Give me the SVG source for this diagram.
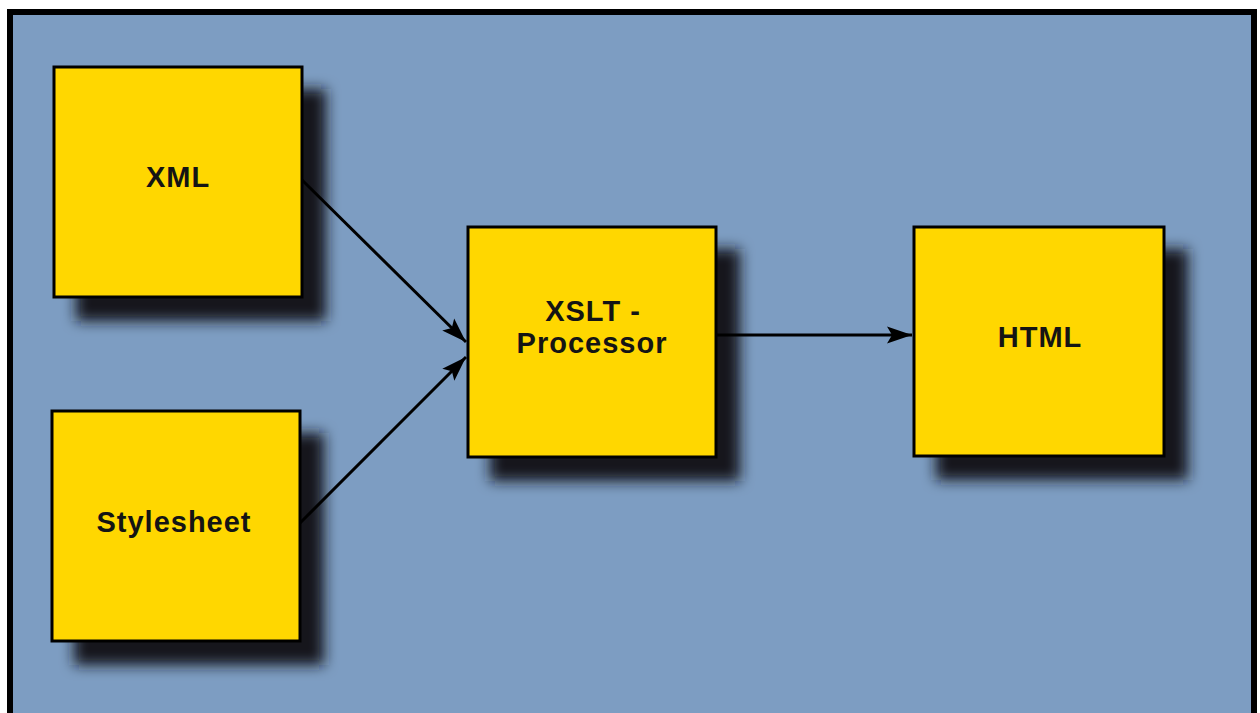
<svg xmlns="http://www.w3.org/2000/svg" width="1260" height="713" viewBox="0 0 1260 713">
  <style>
    .box { fill: #ffd700; stroke: #000; stroke-width: 3; }
    .shadow { fill: #15181d; filter: url(#blur); }
    .label { font-family: "Liberation Sans", Arial, sans-serif; font-weight: bold; font-size: 29px; letter-spacing: 1px; fill: #141414; text-anchor: middle; }
    .edge { stroke: #000; stroke-width: 3; fill: none; marker-end: url(#arrow); }
  </style>
  <defs>
    <filter id="blur" x="-20%" y="-20%" width="140%" height="140%">
      <feGaussianBlur stdDeviation="7"/>
    </filter>
    <marker id="arrow" viewBox="-26 -10 28 20" refX="0" refY="0" markerWidth="28" markerHeight="20" markerUnits="userSpaceOnUse" orient="auto" overflow="visible">
      <path d="M0,0 L-25,-8.5 L-20,0 L-25,8.5 Z" fill="#000"/>
    </marker>
  </defs>

  <!-- page -->
  <rect x="0" y="0" width="1260" height="713" fill="#fff"/>
  <rect x="10" y="12" width="1244" height="710" fill="#7d9dc2" stroke="#000" stroke-width="6"/>

  <!-- drop shadows -->
  <g id="shadows">
    <rect class="shadow" x="76" y="89" width="250" height="232"/>
    <rect class="shadow" x="74" y="433" width="250" height="232"/>
    <rect class="shadow" x="490" y="249" width="250" height="232"/>
    <rect class="shadow" x="936" y="249" width="252" height="231"/>
  </g>

  <!-- connectors -->
  <g id="connectors">
    <line class="edge" x1="302" y1="180" x2="466" y2="342"/>
    <line class="edge" x1="300" y1="523" x2="466" y2="357"/>
    <line class="edge" x1="716" y1="335" x2="912" y2="335"/>
  </g>

  <g id="node-xml">
    <rect class="box" x="54" y="67" width="248" height="230"/>
    <text class="label" x="178" y="187">XML</text>
  </g>
  <g id="node-stylesheet">
    <rect class="box" x="52" y="411" width="248" height="230"/>
    <text class="label" x="174" y="532">Stylesheet</text>
  </g>
  <g id="node-xslt">
    <rect class="box" x="468" y="227" width="248" height="230"/>
    <text class="label" x="593" y="321">XSLT -</text>
    <text class="label" x="592" y="353">Processor</text>
  </g>
  <g id="node-html">
    <rect class="box" x="914" y="227" width="250" height="229"/>
    <text class="label" x="1040" y="347">HTML</text>
  </g>
</svg>
